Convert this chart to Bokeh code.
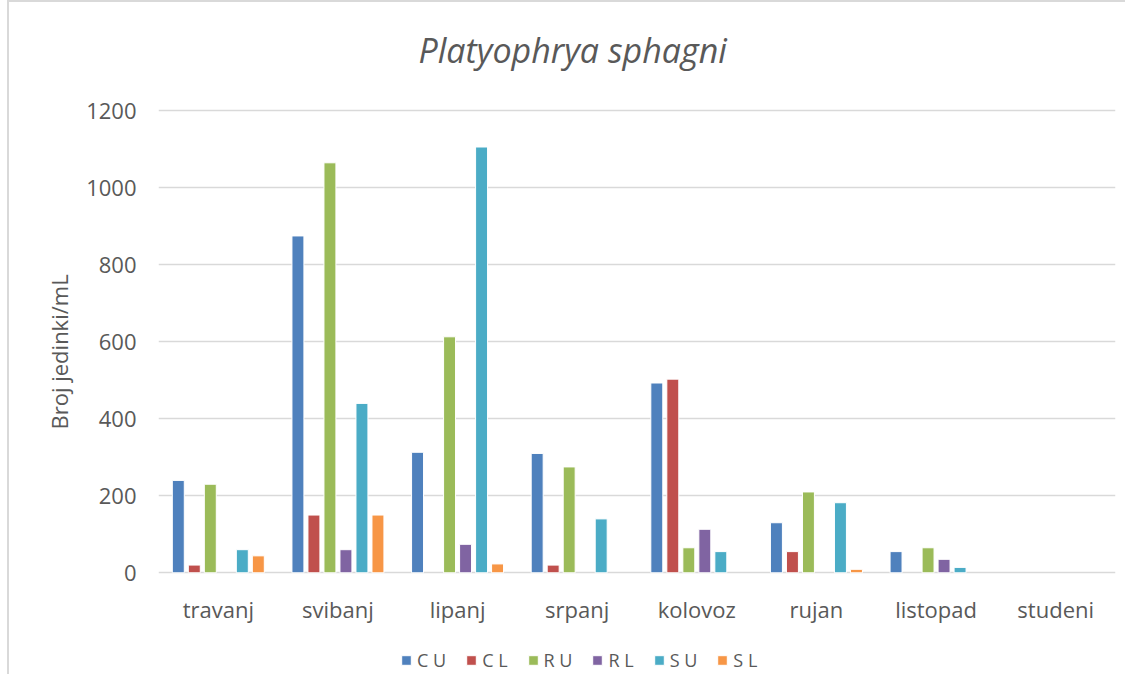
from bokeh.plotting import figure
from bokeh.models import (FactorRange, Range1d, Legend, LegendItem,
                          ColumnDataSource, Title)
from bokeh.transform import dodge
from bokeh.core.properties import value
from bokeh.embed import file_html
from bokeh.resources import INLINE

months = ["travanj", "svibanj", "lipanj", "srpanj", "kolovoz", "rujan", "listopad", "studeni"]
series_names = ["C U", "C L", "R U", "R L", "S U", "S L"]
CU = [240, 875, 313, 310, 493, 130, 55, 0]
CL = [20, 150, 0, 20, 503, 55, 0, 0]
RU = [230, 1065, 613, 275, 65, 210, 65, 0]
RL = [0, 60, 74, 0, 113, 0, 35, 0]
SU = [60, 440, 1106, 140, 55, 182, 14, 0]
SL = [44, 150, 23, 0, 0, 9, 0, 0]
series_values = [CU, CL, RU, RL, SU, SL]
colors = ["#4F81BD", "#C0504D", "#9BBB59", "#8064A2", "#4BACC6", "#F79646"]
y_ticks = [0, 200, 400, 600, 800, 1000, 1200]

FONT = "Open Sans"
GRAY = "#595959"

# frame extends below the zero line so that the category labels and legend fit inside it
p = figure(width=1118, height=674, x_range=FactorRange(*months, range_padding=0),
           y_range=Range1d(-269.4, 1258), output_backend="svg", toolbar_location=None,
           x_axis_location=None, min_border_left=149, min_border_right=12,
           min_border_top=86, min_border_bottom=0, title=None)
p.styles = {"border-left": "2px solid #d9d9d9", "border-top": "2px solid #d9d9d9",
            "position": "relative", "left": "7px"}
p.outline_line_color = None
p.background_fill_color = "white"
p.border_fill_color = "white"

step = 16 / 119.6
items = []
for i, (name, vals, col) in enumerate(zip(series_names, series_values, colors)):
    xs = [m for m, v in zip(months, vals) if v > 0]
    ys = [v for v in vals if v > 0]
    src = ColumnDataSource(dict(month=xs, val=ys))
    r = p.vbar(x=dodge("month", (i - 2.5) * step, range=p.x_range), top="val", bottom=0,
               width=0.1, source=src, fill_color=col, line_color="white", line_width=1)
    items.append(LegendItem(label=name, renderers=[r]))

# category labels under the zero line
lab_src = ColumnDataSource(dict(month=months, y=[0] * len(months)))
p.text(x="month", y="y", text="month", source=lab_src, y_offset=36,
       text_align="center", text_baseline="alphabetic", text_font=value(FONT),
       text_font_size="22px", text_color=GRAY)

title = Title(text="Platyophrya sphagni", align="left", offset=260,
              vertical_align="bottom", standoff=31, text_font=FONT,
              text_font_style="italic", text_font_size="34px", text_color=GRAY)
p.add_layout(title, "above")

p.ygrid.grid_line_color = "#d9d9d9"
p.ygrid.grid_line_width = 1.5
p.xgrid.grid_line_color = None
p.yaxis.ticker = y_ticks
p.yaxis.axis_line_color = None
p.yaxis.major_tick_line_color = None
p.yaxis.minor_tick_line_color = None
p.yaxis.major_tick_out = 0
p.yaxis.major_tick_in = 0
p.yaxis.minor_tick_out = 0
p.yaxis.major_label_standoff = 22
p.yaxis.major_label_text_font_size = "22px"
p.yaxis.major_label_text_color = GRAY
p.yaxis.major_label_text_font = FONT

ylab = Title(text="Broj jedinki/mL", align="left", offset=247,
             vertical_align="bottom", standoff=19, text_font=FONT,
             text_font_style="normal", text_font_size="22px", text_color=GRAY)
p.add_layout(ylab, "left")

legend = Legend(items=items, orientation="horizontal", location=(242, 4),
                glyph_width=12, glyph_height=12, label_standoff=5, spacing=19,
                padding=0, margin=0, border_line_color=None, background_fill_alpha=0,
                label_text_font_size="18px", label_text_color=GRAY,
                label_text_font=FONT)
p.add_layout(legend, "center")

open("out.html", "w").write(file_html(p, INLINE))
